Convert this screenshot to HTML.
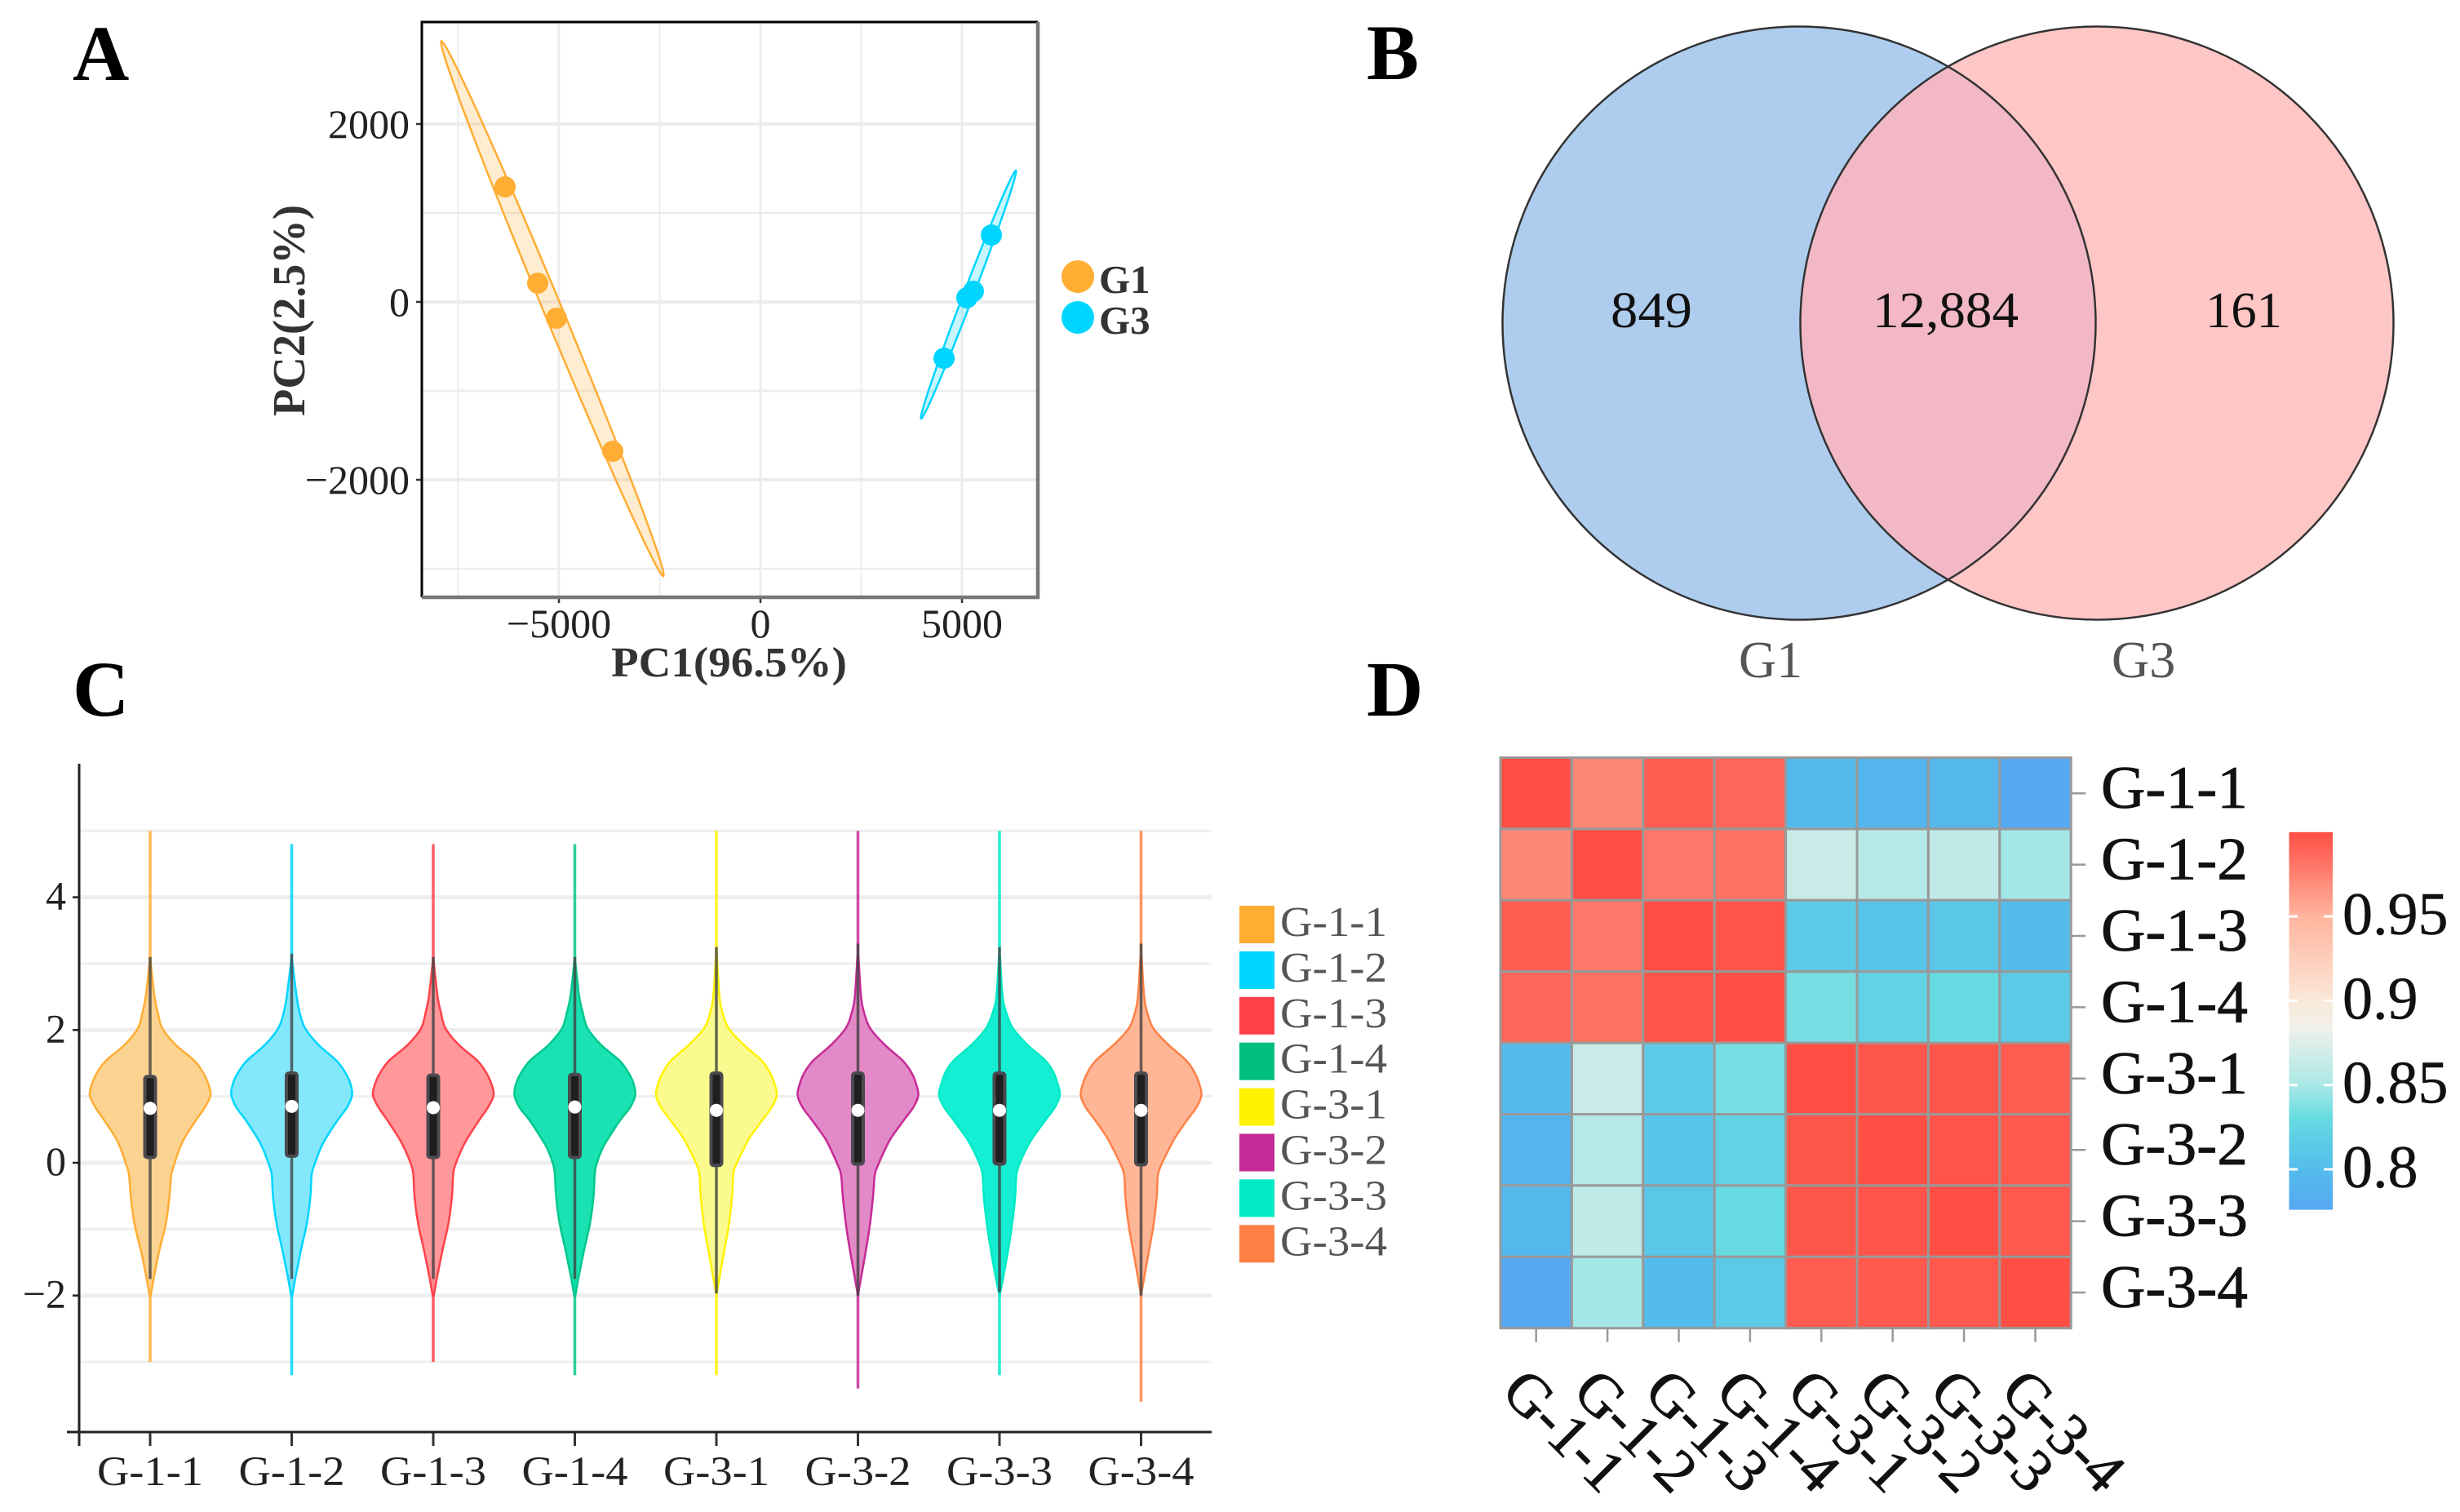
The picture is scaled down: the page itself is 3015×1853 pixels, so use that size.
<!DOCTYPE html>
<html>
<head>
<meta charset="utf-8">
<title>Four panel figure</title>
<style>
html,body{margin:0;padding:0;background:#fff;width:3015px;height:1853px;overflow:hidden}
svg{display:block;font-family:"Liberation Serif",serif}
</style>
</head>
<body>
<svg id="fig" xmlns="http://www.w3.org/2000/svg" width="3015" height="1853" viewBox="0 0 3015 1853">
  <rect width="3015" height="1853" fill="#fff"/>
  <g font-weight="bold" font-size="96" fill="#000">
    <text x="89" y="98">A</text>
    <text x="1675" y="97">B</text>
    <text x="89" y="877">C</text>
    <text x="1675" y="877">D</text>
  </g>

  <g id="pca"></g>
  <text x="749" y="829" font-size="52" font-weight="bold" fill="#333" textLength="289" lengthAdjust="spacingAndGlyphs">PC1(96.5%)</text>
  <text transform="translate(373,510) rotate(-90)" font-size="56" font-weight="bold" fill="#333" textLength="259" lengthAdjust="spacingAndGlyphs">PC2(2.5%)</text>

  <g id="venn">
    <defs>
      <clipPath id="left-clip"><circle cx="2205" cy="396" r="363.5"/></clipPath>
    </defs>
    <circle cx="2205" cy="396" r="363.5" fill="#aecdee"/>
    <circle cx="2570" cy="396" r="363.5" fill="#ffc6c6"/>
    <circle cx="2570" cy="396" r="363.5" fill="#f2b8c6" clip-path="url(#left-clip)"/>
    <circle cx="2205" cy="396" r="363.5" fill="none" stroke="#333" stroke-width="2.5"/>
    <circle cx="2570" cy="396" r="363.5" fill="none" stroke="#333" stroke-width="2.5"/>
    <g font-size="62" fill="#111">
      <text x="1974" y="401" textLength="100" lengthAdjust="spacingAndGlyphs">849</text>
      <text x="2295" y="401" textLength="179" lengthAdjust="spacingAndGlyphs">12,884</text>
      <text x="2703" y="401" textLength="94" lengthAdjust="spacingAndGlyphs">161</text>
    </g>
    <g font-size="64" fill="#555">
      <text x="2131" y="830">G1</text>
      <text x="2588" y="830">G3</text>
    </g>
  </g>

  <g id="violin"></g>
  <g id="heat"></g>
</svg>

<script>
/* ---------- Panel A data ---------- */
const pcaGroups = ['G1', 'G3'];
const pcaColors = ['#ffad33', '#00d5ff'];
const pcaPc1 = [[-6336, -5526, -5061, -3664], [5729, 5283, 5121, 4555]];
const pcaPc2 = [[1294, 211, -183, -1679], [752, 119, 46, -633]];
const ellipseTipPc1 = [[-7915, -2409], [6336, 3988]];
const ellipseTipPc2 = [[2931, -3083], [1477, -1312]];
const ellipseHalfWidthPc1 = [245, 130];
const pcaXMajor = [-5000, 0, 5000];
const pcaXMinor = [-7500, -2500, 2500];
const pcaYMajor = [2000, 0, -2000];
const pcaYMinor = [1000, -1000, -3000];
const pcaXLabels = ['\u22125000', '0', '5000'];
const pcaYLabels = ['2000', '0', '\u22122000'];

/* ---------- Panel C data ---------- */
const sampleNames = ['G-1-1', 'G-1-2', 'G-1-3', 'G-1-4', 'G-3-1', 'G-3-2', 'G-3-3', 'G-3-4'];
const violinMajorTicks = [4, 2, 0, -2];
const violinMajorLabels = ['4', '2', '0', '\u22122'];
const violinMinorTicks = [5, 3, 1, -1, -3];
const densityGrid = [3.1, 2.52, 2.27, 2.03, 1.78, 1.54, 1.37, 1.2, 1.02, 0.84, 0.64, 0.39, 0.22, -0.02, -0.18, -0.51, -0.92, -1.33, -1.74, -2];
const densities = [
  [0, .07, .125, .2, .42, .73, .87, .96, 1, .91, .76, .58, .49, .4, .35, .32, .26, .15, .06, .01],
  [0, .08, .13, .22, .44, .74, .88, .97, 1, .92, .76, .58, .48, .38, .33, .31, .25, .15, .06, .01],
  [0, .07, .125, .2, .42, .73, .87, .96, 1, .91, .76, .58, .48, .37, .33, .31, .25, .15, .06, .01],
  [0, .07, .13, .21, .43, .74, .88, .97, 1, .92, .75, .57, .46, .36, .33, .31, .25, .15, .06, .01],
  [.01, .05, .1, .2, .45, .75, .88, .96, 1, .92, .76, .56, .46, .33, .28, .26, .21, .13, .05, 0],
  [.01, .05, .1, .2, .44, .74, .88, .96, 1, .92, .76, .56, .46, .34, .28, .25, .2, .13, .05, 0],
  [.01, .05, .11, .22, .46, .76, .89, .96, 1, .92, .76, .56, .45, .33, .28, .26, .21, .14, .06, 0],
  [.01, .05, .1, .2, .45, .75, .88, .96, 1, .92, .76, .57, .47, .34, .28, .26, .21, .13, .05, 0]
];
const tailMax = [5, 4.8, 4.8, 4.8, 5, 5, 5, 5];
const tailMin = [-3, -3.2, -3, -3.2, -3.2, -3.4, -3.2, -3.6];
const whiskerHigh = [3.1, 3.15, 3.1, 3.1, 3.25, 3.3, 3.25, 3.3];
const whiskerLow = [-1.75, -1.75, -1.75, -1.75, -1.97, -2, -1.95, -2];
const quartile3 = [1.3, 1.35, 1.32, 1.33, 1.35, 1.35, 1.35, 1.35];
const quartile1 = [0.08, 0.1, 0.08, 0.08, -0.04, -0.02, -0.02, -0.03];
const medians = [0.82, 0.85, 0.83, 0.84, 0.79, 0.79, 0.79, 0.79];
const violinFills = ['#fdcf88', '#78e6fb', '#ff8e92', '#08dfab', '#fbfa85', '#e07fc2', '#00eed0', '#ffb08e'];
const violinStrokes = ['#ffad33', '#00d5ff', '#ff4149', '#00c88c', '#fff200', '#c62a96', '#00eac5', '#ff8045'];
const legendColors = ['#ffad33', '#00d5ff', '#ff4149', '#00bf7d', '#fff200', '#c62a96', '#00eac5', '#ff8045'];

/* ---------- Panel D data ---------- */
const heatValues = [
  [1.000, .972, .992, .988, .797, .790, .795, .777],
  [.972, 1.000, .980, .983, .865, .855, .860, .848],
  [.992, .980, 1.000, .997, .815, .808, .811, .800],
  [.988, .983, .997, 1.000, .835, .822, .830, .814],
  [.797, .865, .815, .835, 1.000, .996, .996, .993],
  [.790, .855, .808, .822, .996, 1.000, .997, .995],
  [.795, .860, .811, .830, .996, .997, 1.000, .995],
  [.777, .848, .800, .814, .993, .995, .995, 1.000]
];
const colorbarTicks = [0.95, 0.9, 0.85, 0.8];
const colorbarLabels = ['0.95', '0.9', '0.85', '0.8'];
const colorStopValues = [0.776, 0.80, 0.83, 0.85, 0.885, 0.90, 0.95, 1.0];
const colorStopRgb = [[85, 168, 242], [84, 188, 235], [102, 219, 226], [170, 232, 230], [242, 240, 234], [250, 232, 216], [255, 180, 158], [255, 78, 68]];

/* ---------- helpers ---------- */
const NS = 'http://www.w3.org/2000/svg';
function make(tag, parent, attrs, content) {
  const node = document.createElementNS(NS, tag);
  for (const key in attrs) node.setAttribute(key, attrs[key]);
  if (content !== undefined) node.textContent = content;
  parent.appendChild(node);
  return node;
}
function smoothPath(pts) {
  let d = '';
  for (let i = 0; i < pts.length - 1; i++) {
    const p0 = pts[Math.max(i - 1, 0)], p1 = pts[i], p2 = pts[i + 1], p3 = pts[Math.min(i + 2, pts.length - 1)];
    const c1x = p1[0] + (p2[0] - p0[0]) / 6, c1y = p1[1] + (p2[1] - p0[1]) / 6;
    const c2x = p2[0] - (p3[0] - p1[0]) / 6, c2y = p2[1] - (p3[1] - p1[1]) / 6;
    d += (i === 0 ? 'M' + p1[0].toFixed(1) + ' ' + p1[1].toFixed(1) : '') +
      'C' + c1x.toFixed(1) + ' ' + c1y.toFixed(1) + ' ' + c2x.toFixed(1) + ' ' + c2y.toFixed(1) + ' ' + p2[0].toFixed(1) + ' ' + p2[1].toFixed(1);
  }
  return d;
}

/* ---------- Panel A ---------- */
(function () {
  const root = document.getElementById('pca');
  const xA = v => 932 + v * 0.0494;
  const yA = v => 370 - v * 0.109;
  const L = 517, R = 1272, T = 27, B = 732;

  pcaXMinor.forEach(v => {
    const el = make('line', root, { x1: xA(v), x2: xA(v), y1: T, y2: B, stroke: '#ececec', 'stroke-width': 2 });
    
    
  });
  pcaYMinor.forEach(v => {
    const el = make('line', root, { x1: L, x2: R, y1: yA(v), y2: yA(v), stroke: '#ececec', 'stroke-width': 2.5 });
    
    
  });
  pcaXMajor.forEach((v, i) => {
    const grid = make('line', root, { x1: xA(v), x2: xA(v), y1: T, y2: B, stroke: '#ececec', 'stroke-width': 3 });
    
    
    const tick = make('line', root, { x1: xA(v), x2: xA(v), y1: B, y2: B + 7, stroke: '#333', 'stroke-width': 2.5 });
    
    
    const label = make('text', root, { x: xA(v), y: 781, 'text-anchor': 'middle', 'font-size': 50, fill: '#222' }, pcaXLabels[i]);
    
    
  });
  pcaYMajor.forEach((v, i) => {
    const grid = make('line', root, { x1: L, x2: R, y1: yA(v), y2: yA(v), stroke: '#ececec', 'stroke-width': 4 });
    
    
    const tick = make('line', root, { x1: L - 7, x2: L, y1: yA(v), y2: yA(v), stroke: '#333', 'stroke-width': 2.5 });
    
    
    const label = make('text', root, { x: 502, y: yA(v) + 17, 'text-anchor': 'end', 'font-size': 50, fill: '#222' }, pcaYLabels[i]);
    
    
  });

  pcaGroups.forEach((g, gi) => {
    const [x0, x1] = ellipseTipPc1[gi], [y0, y1] = ellipseTipPc2[gi];
    const cx = (x0 + x1) / 2, cy = (y0 + y1) / 2, ax = (x0 - x1) / 2, ay = (y0 - y1) / 2, w = ellipseHalfWidthPc1[gi];
    let d = '';
    for (let k = 0; k < 72; k++) {
      const t = k / 72 * 2 * Math.PI;
      const px = xA(cx + ax * Math.cos(t) + w * Math.sin(t));
      const py = yA(cy + ay * Math.cos(t));
      d += (k ? 'L' : 'M') + px.toFixed(1) + ' ' + py.toFixed(1);
    }
    const ell = make('path', root, { d: d + 'Z', fill: pcaColors[gi], 'fill-opacity': 0.22, stroke: pcaColors[gi], 'stroke-width': 2.5 });
    
    
    pcaPc1[gi].forEach((v, i) => {
      const dot = make('circle', root, { cx: xA(v), cy: yA(pcaPc2[gi][i]), r: 13, fill: pcaColors[gi] });
      
      
    });
    const key = make('circle', root, { cx: 1321, cy: 339 + gi * 50, r: 20, fill: pcaColors[gi] });
    
    
    const keyText = make('text', root, { x: 1347, y: 359 + gi * 50, 'font-size': 49, 'font-weight': 'bold', fill: '#333' }, g);
    
    
  });

  const frameTop = make('path', root, { d: `M${L} ${B}V${T}H${R}`, fill: 'none', stroke: '#000', 'stroke-width': 3 });
  
  
  const frameBottom = make('path', root, { d: `M${L} ${B}H${R}V${T}`, fill: 'none', stroke: '#777', 'stroke-width': 4.5 });
  
  
})();

/* ---------- Panel C ---------- */
(function () {
  const root = document.getElementById('violin');
  const yV = v => 1425 - v * 81.35;
  const xV = i => 184 + i * 173.5;
  const halfMax = 74;

  violinMinorTicks.forEach(v => {
    const el = make('line', root, { x1: 97, x2: 1485, y1: yV(v), y2: yV(v), stroke: '#eeeeee', 'stroke-width': 3 });
    
    
  });
  violinMajorTicks.forEach((v, i) => {
    const grid = make('line', root, { x1: 97, x2: 1485, y1: yV(v), y2: yV(v), stroke: '#eeeeee', 'stroke-width': 5 });
    
    
    const tick = make('line', root, { x1: 89, x2: 97, y1: yV(v), y2: yV(v), stroke: '#222', 'stroke-width': 2.5 });
    
    
    const label = make('text', root, { x: 81, y: yV(v) + 15, 'text-anchor': 'end', 'font-size': 50, fill: '#222' }, violinMajorLabels[i]);
    
    
  });

  sampleNames.forEach((name, i) => {
    const c = xV(i);
    const tail = make('line', root, { x1: c, x2: c, y1: yV(tailMax[i]), y2: yV(tailMin[i]), stroke: violinStrokes[i], 'stroke-width': 3.5, 'stroke-opacity': 0.85 });
    
    

    const right = densityGrid.map((v, k) => [c + densities[i][k] * halfMax, yV(v)]);
    const left = densityGrid.map((v, k) => [c - densities[i][k] * halfMax, yV(v)]).reverse();
    const d = smoothPath(right) + smoothPath(left).replace(/^M[^C]*/, 'L' + left[0][0].toFixed(1) + ' ' + left[0][1].toFixed(1)) + 'Z';
    const body = make('path', root, { d: d, fill: violinFills[i], 'fill-opacity': 0.92, stroke: violinStrokes[i], 'stroke-width': 2.5 });
    
    

    const whisker = make('line', root, { x1: c, x2: c, y1: yV(whiskerHigh[i]), y2: yV(whiskerLow[i]), stroke: '#444', 'stroke-width': 3.5, 'stroke-opacity': 0.8 });
    
    
    const box = make('rect', root, { x: c - 6.5, y: yV(quartile3[i]), width: 13, height: yV(quartile1[i]) - yV(quartile3[i]), rx: 3, fill: '#1f1f1f', stroke: '#4a4a4f', 'stroke-width': 4 });
    
    
    const med = make('circle', root, { cx: c, cy: yV(medians[i]), r: 8, fill: '#fff' });
    
    

    const tick = make('line', root, { x1: c, x2: c, y1: 1755, y2: 1772, stroke: '#333', 'stroke-width': 3 });
    
    
    const label = make('text', root, { x: c, y: 1820, 'text-anchor': 'middle', 'font-size': 51, fill: '#222', textLength: 130, lengthAdjust: 'spacingAndGlyphs' }, name);
    
    

    const swatch = make('rect', root, { x: 1519, y: 1110 + i * 55.9, width: 43, height: 46, fill: legendColors[i] });
    
    
    const keyText = make('text', root, { x: 1569, y: 1147 + i * 55.9, 'font-size': 52, fill: '#555', textLength: 131, lengthAdjust: 'spacingAndGlyphs' }, name);
    
    
  });

  const xAxis = make('line', root, { x1: 82, x2: 1485, y1: 1755, y2: 1755, stroke: '#222', 'stroke-width': 3 });
  
  
  const yAxis = make('line', root, { x1: 97, x2: 97, y1: 936, y2: 1772, stroke: '#222', 'stroke-width': 3 });
  
  
})();

/* ---------- Panel D ---------- */
(function () {
  const root = document.getElementById('heat');
  const x0 = 1839, y0 = 928.5, cell = 87.4;
  const n = sampleNames.length;
  const colorOf = v => {
    let k = 0;
    while (k < colorStopValues.length - 2 && v > colorStopValues[k + 1]) k++;
    const t = Math.max(0, Math.min(1, (v - colorStopValues[k]) / (colorStopValues[k + 1] - colorStopValues[k])));
    const a = colorStopRgb[k], b = colorStopRgb[k + 1];
    return `rgb(${a.map((c, j) => Math.round(c + (b[j] - c) * t)).join(',')})`;
  };

  heatValues.forEach((row, r) => row.forEach((v, c) => {
    const el = make('rect', root, { x: x0 + c * cell, y: y0 + r * cell, width: cell, height: cell, fill: colorOf(v), stroke: '#999', 'stroke-width': 3 });
    
    
  }));

  sampleNames.forEach((name, i) => {
    const cy = y0 + (i + 0.5) * cell, cx = x0 + (i + 0.5) * cell;
    const rowTick = make('line', root, { x1: x0 + n * cell, x2: x0 + n * cell + 18, y1: cy, y2: cy, stroke: '#999', 'stroke-width': 2.5 });
    
    
    const rowLabel = make('text', root, { x: 2575, y: cy + 18, 'font-size': 74, fill: '#111', stroke: '#111', 'stroke-width': 0.8, textLength: 180, lengthAdjust: 'spacingAndGlyphs' }, name);
    
    
    const colTick = make('line', root, { x1: cx, x2: cx, y1: y0 + n * cell, y2: y0 + n * cell + 17, stroke: '#999', 'stroke-width': 2.5 });
    
    
    const colLabel = make('text', root, { transform: `translate(${cx - 45},1708) rotate(45)`, 'font-size': 74, fill: '#111', stroke: '#111', 'stroke-width': 0.8 }, name);
    
    
  });

  const yBar = v => 1433 - (v - 0.8) * 2066;
  const defs = make('defs', root, {});
  const grad = make('linearGradient', defs, { id: 'cbar', x1: 0, y1: 1, x2: 0, y2: 0 });
  const barMin = colorStopValues[0], barMax = colorStopValues[colorStopValues.length - 1];
  colorStopValues.forEach((v, k) => {
    make('stop', grad, { offset: (v - barMin) / (barMax - barMin), 'stop-color': `rgb(${colorStopRgb[k].join(',')})` });
  });
  const bar = make('rect', root, { x: 2805.5, y: yBar(barMax), width: 53.5, height: yBar(barMin) - yBar(barMax), fill: 'url(#cbar)' });
  
  
  colorbarTicks.forEach((v, i) => {
    const a = make('line', root, { x1: 2805.5, x2: 2816, y1: yBar(v), y2: yBar(v), stroke: '#fff', 'stroke-width': 3 });
    
    
    const b = make('line', root, { x1: 2848, x2: 2859, y1: yBar(v), y2: yBar(v), stroke: '#fff', 'stroke-width': 3 });
    
    
    const label = make('text', root, { x: 2871, y: yBar(v) + 22, 'font-size': 74, fill: '#111', stroke: '#111', 'stroke-width': 0.5 }, colorbarLabels[i]);
    
    
  });
})();
</script>
</body>
</html>
